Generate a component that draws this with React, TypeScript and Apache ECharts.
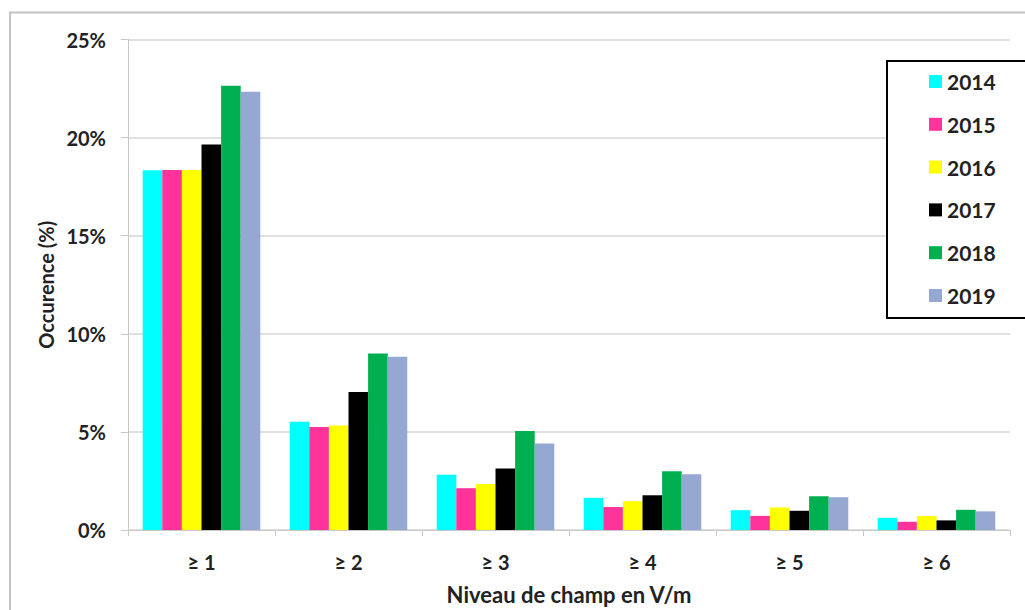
import React, { useEffect, useRef } from "react";
import * as echarts from "echarts";

const categories = ["≥ 1", "≥ 2", "≥ 3", "≥ 4", "≥ 5", "≥ 6"];
const years = ["2014", "2015", "2016", "2017", "2018", "2019"];
const v2014 = [18.34, 5.52, 2.82, 1.64, 1.01, 0.62];
const v2015 = [18.35, 5.25, 2.13, 1.17, 0.72, 0.42];
const v2016 = [18.35, 5.32, 2.35, 1.47, 1.15, 0.71];
const v2017 = [19.65, 7.03, 3.14, 1.77, 0.98, 0.49];
const v2018 = [22.64, 9.0, 5.05, 3.0, 1.72, 1.03];
const v2019 = [22.34, 8.83, 4.41, 2.84, 1.67, 0.95];
const seriesValues = [v2014, v2015, v2016, v2017, v2018, v2019];
const colors = ["#00FFFF", "#FF3399", "#FFFF00", "#000000", "#00B050", "#95A8D2"];
const yTicks = [0, 5, 10, 15, 20, 25];

const FONT = "Lato";
const TXT = "#222222";

export default function App() {
  const ref = useRef<HTMLDivElement>(null);
  useEffect(() => {
    if (!ref.current) return;
    const chart = echarts.init(ref.current, null, { renderer: "svg" });
    chart.setOption({
      animation: false,
      backgroundColor: "#ffffff",
      grid: { left: 128, right: 15, top: 39.5, bottom: 77, containLabel: false },
      legend: {
        orient: "vertical",
        left: 929,
        top: 71,
        padding: 0,
        itemWidth: 13,
        itemHeight: 13,
        itemGap: 21.8,
        icon: "rect",
        data: years,
        textStyle: { fontFamily: FONT, fontWeight: "bold", fontSize: 21, color: TXT, lineHeight: 20 },
        z: 10,
      },
      graphic: [
        {
          type: "rect",
          z: -10,
          silent: true,
          shape: { x: 10, y: 12.5, width: 1100, height: 700 },
          style: { fill: "none", stroke: "#c4c4c4", lineWidth: 2 },
        },
        {
          type: "rect",
          z: 5,
          silent: true,
          shape: { x: 887, y: 61, width: 140, height: 257 },
          style: { fill: "#ffffff", stroke: "#000000", lineWidth: 2 },
        },
      ],
      xAxis: {
        type: "category",
        data: categories,
        name: "Niveau de champ en V/m",
        nameLocation: "middle",
        nameGap: 53,
        nameTextStyle: { fontFamily: FONT, fontWeight: "bold", fontSize: 22, color: TXT },
        axisLine: { lineStyle: { color: "#c8c8c8", width: 1 } },
        axisTick: { show: true, length: 6, lineStyle: { color: "#c8c8c8" } },
        axisLabel: { fontFamily: FONT, fontWeight: "bold", fontSize: 20, color: TXT, margin: 22 },
      },
      yAxis: {
        type: "value",
        min: yTicks[0],
        max: yTicks[yTicks.length - 1],
        interval: 5,
        name: "Occurence (%)",
        nameLocation: "middle",
        nameRotate: 90,
        nameGap: 68,
        nameTextStyle: { fontFamily: FONT, fontWeight: "bold", fontSize: 20, color: TXT },
        axisLine: { show: true, lineStyle: { color: "#c8c8c8", width: 1 } },
        axisTick: { show: true, length: 7, lineStyle: { color: "#c8c8c8" } },
        axisLabel: {
          fontFamily: FONT,
          fontWeight: "bold",
          fontSize: 20,
          color: TXT,
          margin: 22,
          formatter: "{value}%",
        },
        splitLine: { lineStyle: { color: "#d6d6d6", width: 1.5 } },
      },
      series: years.map((y, i) => ({
        name: y,
        type: "bar",
        data: seriesValues[i],
        barGap: "0%",
        barCategoryGap: "20%",
        itemStyle: { color: colors[i] },
      })),
    });
    return () => chart.dispose();
  }, []);
  return (
    <div
      ref={ref}
      style={{ position: "fixed", left: 0, top: 0, width: 1025, height: 610 }}
    />
  );
}
